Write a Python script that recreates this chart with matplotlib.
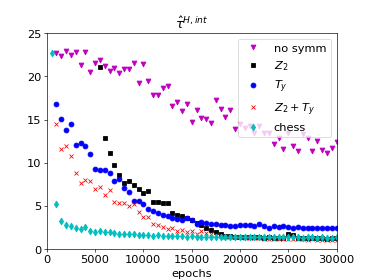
import numpy as np
import matplotlib
matplotlib.use('Agg')
import matplotlib.pyplot as plt

# epochs grid (every 500 epochs)
epochs = np.arange(1000, 30001, 500)
epochs_z2 = np.arange(5500, 30001, 500)
epochs_chess = np.arange(500, 30001, 500)

no_symm = [22.65, 22.4, 22.95, 22.45, 22.85, 21.3, 22.8, 20.5, 21.5,
           21.9, 21.2, 20.6, 21.0, 20.4, 20.9, 20.9, 21.6, 19.2, 21.4,
           19.5, 17.8, 17.8, 18.6, 18.9, 16.55, 17.05, 16.0, 16.8, 14.7,
           16.1, 15.2, 15.1, 14.55, 17.3, 16.2, 15.3, 16.1, 13.9, 14.45,
           14.0, 14.25, 13.4, 14.25, 13.45, 13.45, 12.2, 12.85, 11.55, 13.5,
           11.95, 11.4, 13.3, 12.9, 11.4, 12.5, 11.5, 11.15, 11.65, 12.4]

z2 = [21.1, 12.9, 11.1, 9.7, 8.6, 7.65, 7.9, 7.4, 7.0, 6.55,
      6.7, 5.5, 5.45, 5.35, 5.35, 4.2, 3.9, 3.85, 3.65, 3.35,
      3.0, 2.75, 2.45, 2.2, 2.0, 1.75, 1.55, 1.5, 1.45, 1.4,
      1.4, 1.35, 1.4, 1.35, 1.3, 1.35, 1.3, 1.3, 1.3, 1.8,
      1.6, 1.3, 1.25, 1.25, 1.3, 1.25, 1.25, 1.2, 1.25, 1.25]

ty = [16.75, 15.1, 13.8, 14.5, 12.05, 12.3, 11.9, 11.05, 9.3,
      9.2, 9.2, 8.8, 7.85, 8.15, 7.1, 6.65, 5.6, 5.55, 5.25,
      4.6, 4.4, 4.2, 3.95, 3.85, 3.55, 3.5, 3.35, 3.55, 3.35,
      2.95, 3.1, 3.0, 2.95, 2.9, 2.78, 2.78, 2.65, 2.7, 2.8,
      2.85, 2.78, 2.63, 2.95, 2.65, 2.5, 2.65, 2.6, 2.7, 2.6,
      2.5, 2.6, 2.5, 2.45, 2.45, 2.45, 2.5, 2.45, 2.45, 2.45]

z2_ty = [14.5, 11.55, 11.9, 10.75, 8.85, 7.7, 7.95, 7.85, 6.95,
         7.15, 6.25, 6.8, 5.45, 5.35, 5.35, 4.95, 5.2, 4.25, 3.75,
         3.75, 2.95, 2.75, 2.6, 2.35, 2.5, 2.15, 2.2, 1.95, 2.05,
         1.8, 2.05, 1.85, 1.7, 1.6, 1.5, 1.45, 1.4, 1.35, 1.35,
         1.3, 1.3, 1.25, 1.27, 1.23, 1.2, 1.22, 1.18, 1.2, 1.17,
         1.15, 1.14, 1.12, 1.1, 1.12, 1.08, 1.1, 1.09, 1.1, 1.08]

chess = [22.75, 5.25, 3.2, 2.78, 2.65, 2.47, 2.3, 2.55, 2.05, 2.0,
         2.05, 2.0, 1.95, 1.85, 1.8, 1.75, 1.7, 1.72, 1.65, 1.6,
         1.6, 1.55, 1.58, 1.52, 1.5, 1.52, 1.48, 1.5, 1.45, 1.47,
         1.45, 1.42, 1.45, 1.4, 1.42, 1.4, 1.42, 1.38, 1.4, 1.38,
         1.4, 1.37, 1.38, 1.36, 1.4, 1.37, 1.36, 1.38, 1.35, 1.37,
         1.35, 1.36, 1.34, 1.36, 1.35, 1.33, 1.35, 1.34, 1.33, 1.35]

fig = plt.figure(figsize=(6.4, 4.8), dpi=374 / 6.4)
ax = fig.add_subplot(111)

ax.plot(epochs, no_symm, 'mv', label='no symm')
ax.plot(epochs_z2, z2, 'ks', label='$Z_2$')
ax.plot(epochs, ty, 'bo', label='$T_y$')
ax.plot(epochs, z2_ty, 'rx', label='$Z_2+T_y$')
ax.plot(epochs_chess, chess, 'cd', label='chess')

ax.set_xlim(0, 30000)
ax.set_ylim(0, 25)
ax.set_xlabel('epochs', fontsize=14)
ax.set_title(r'$\hat{\tau}^{H,int}$', fontsize=16)
ax.tick_params(labelsize=14)
ax.legend(loc='upper right', fontsize=14)

fig.savefig('out.png', dpi=fig.dpi)
